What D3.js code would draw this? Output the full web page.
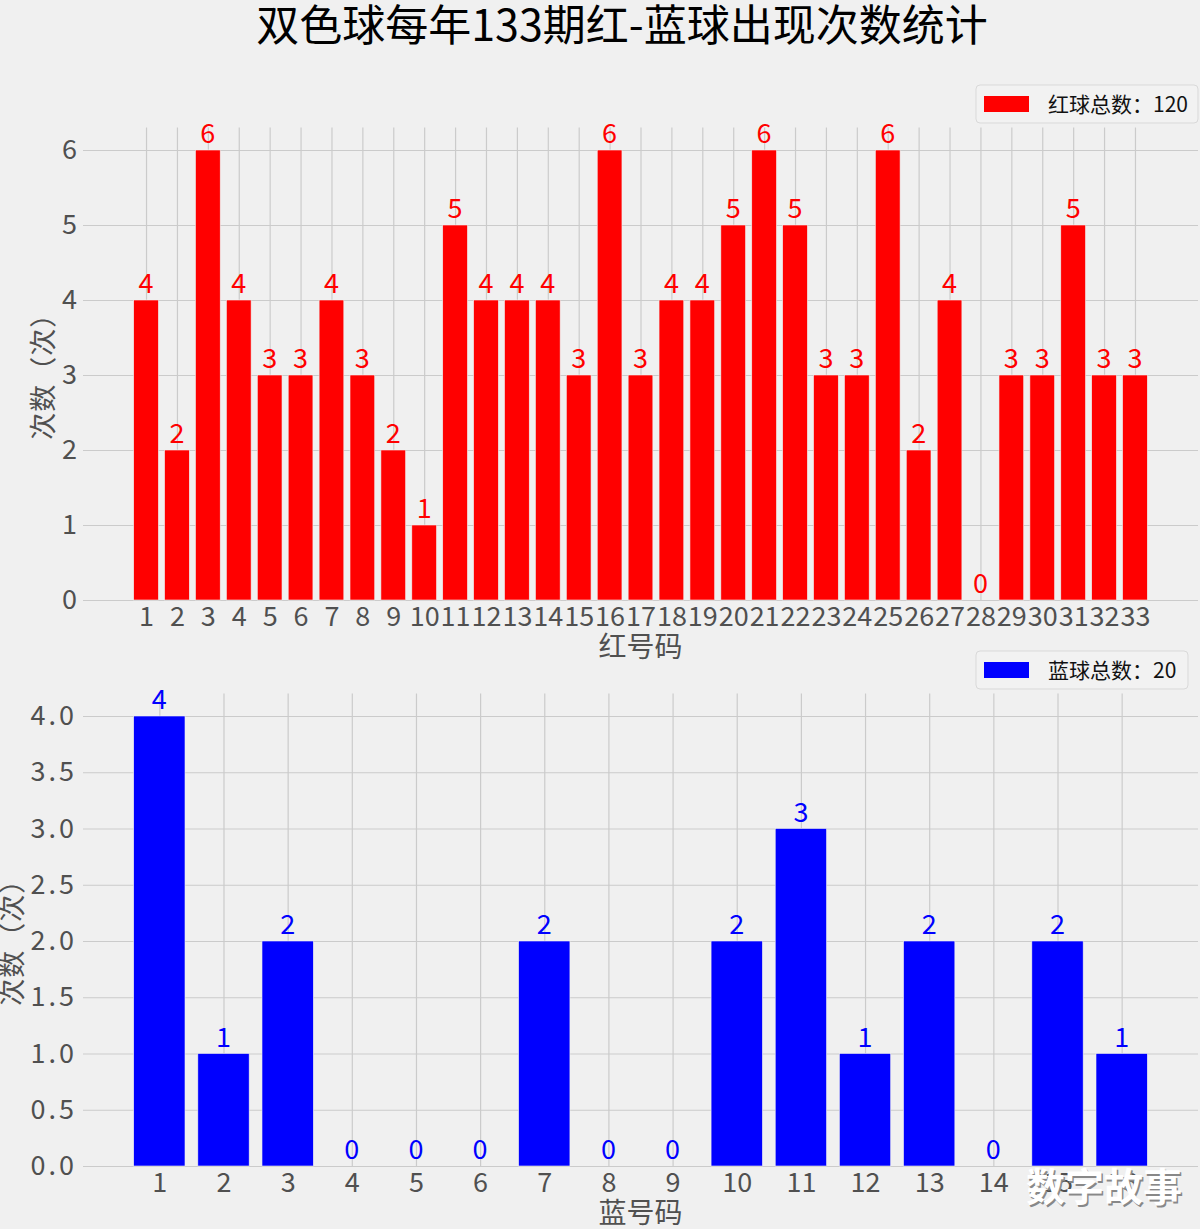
<!DOCTYPE html>
<html>
<head>
<meta charset="utf-8">
<script src="https://cdn.jsdelivr.net/npm/d3@7"></script>
<style>
  html, body { margin: 0; padding: 0; background: #f0f0f0; }
  svg { display: block; font-family: "Noto Sans CJK SC", "Noto Sans", sans-serif; }
</style>
</head>
<body>
<svg id="chart" width="1200" height="1229"></svg>
<script>
// ---- data ----
const title = "双色球每年133期红-蓝球出现次数统计";
const redNumbers = d3.range(1, 34);
const redCounts = [4,2,6,4,3,3,4,3,2,1,5,4,4,4,3,6,3,4,4,5,6,5,3,3,6,2,4,0,3,3,5,3,3];
const blueNumbers = d3.range(1, 17);
const blueCounts = [4,1,2,0,0,0,2,0,0,2,3,1,2,0,2,1];
const redYTicks = [0,1,2,3,4,5,6];
const blueYTicks = [0,0.5,1,1.5,2,2.5,3,3.5,4];
const redLegend = "红球总数：" + d3.sum(redCounts);
const blueLegend = "蓝球总数：" + d3.sum(blueCounts);
const redXLabel = "红号码";
const blueXLabel = "蓝号码";
const yLabel = "次数（次）";
const watermark = "数字故事";

const svg = d3.select("#chart");
svg.append("rect").attr("width", 1200).attr("height", 1229).attr("fill", "#f0f0f0");

svg.append("text")
  .attr("x", 622).attr("y", 41)
  .attr("text-anchor", "middle")
  .attr("font-size", 43)
  .attr("fill", "#000")
  .text(title);

function panel(opts) {
  const {cats, vals, color, top, bottom, yMax, yTicks, yFmt, xLabel, legendText, legendBox, ySpacing} = opts;
  const left = 83, right = 1198;
  const n = cats.length;
  const lo = 0.6, hi = n + 0.4, m = (hi - lo) * 0.05;
  const x = d3.scaleLinear().domain([lo - m, hi + m]).range([left, right]);
  const y = d3.scaleLinear().domain([0, yMax]).range([bottom, top]);
  const g = svg.append("g");
  const h = bottom - top, w = right - left;

  // y axis with gridlines
  const ya = g.append("g").attr("transform", `translate(${left},0)`)
    .call(d3.axisLeft(y).tickValues(yTicks).tickFormat(yFmt).tickSize(-w).tickPadding(6));
  ya.select(".domain").remove();
  ya.selectAll(".tick line").attr("stroke", "#cbcbcb").attr("stroke-width", 1.2);
  ya.selectAll(".tick text").attr("font-size", 27).attr("fill", "#505050")
    .attr("font-family", '"Noto Sans CJK SC", sans-serif')
    .attr("letter-spacing", ySpacing || 0);

  // x axis with gridlines
  const xa = g.append("g").attr("transform", `translate(0,${bottom})`)
    .call(d3.axisBottom(x).tickValues(cats).tickFormat(d3.format("d")).tickSize(-h).tickPadding(7));
  xa.select(".domain").remove();
  xa.selectAll(".tick line").attr("stroke", "#cbcbcb").attr("stroke-width", 1.2);
  xa.selectAll(".tick text").attr("font-size", 27).attr("fill", "#505050")
    .attr("font-family", '"Noto Sans CJK SC", sans-serif');

  // bars
  const bw = (x(1.8) - x(1));
  g.selectAll("rect.bar").data(cats).join("rect")
    .attr("class", "bar")
    .attr("x", d => x(d) - bw / 2)
    .attr("width", bw)
    .attr("y", (d, i) => y(vals[i]))
    .attr("height", (d, i) => y(0) - y(vals[i]))
    .attr("fill", color)
    .attr("stroke", "#f0f0f0").attr("stroke-width", 0.6);

  // value labels
  g.selectAll("text.val").data(cats).join("text")
    .attr("class", "val")
    .attr("x", d => x(d))
    .attr("y", (d, i) => y(vals[i]) - 7)
    .attr("text-anchor", "middle")
    .attr("font-size", 27)
    .attr("fill", color)
    .text((d, i) => vals[i]);

  // y label
  g.append("text")
    .attr("transform", `translate(${opts.yLabelX},${(top + bottom) / 2 + 6}) rotate(-90)`)
    .attr("text-anchor", "middle")
    .attr("font-size", 27)
    .attr("letter-spacing", 1)
    .attr("fill", "#505050")
    .text(yLabel);

  // x label
  g.append("text")
    .attr("x", (left + right) / 2).attr("y", opts.xLabelY)
    .attr("text-anchor", "middle")
    .attr("font-size", 28)
    .attr("fill", "#505050")
    .text(xLabel);

  // legend
  const lg = svg.append("g");
  lg.append("rect")
    .attr("x", legendBox.x).attr("y", legendBox.y)
    .attr("width", legendBox.w).attr("height", legendBox.h)
    .attr("rx", 4)
    .attr("fill", "#f2f2f2").attr("stroke", "#d9d9d9").attr("stroke-width", 1);
  lg.append("rect")
    .attr("x", legendBox.x + 8).attr("y", legendBox.y + legendBox.h / 2 - 8)
    .attr("width", 45).attr("height", 16)
    .attr("fill", color);
  lg.append("text")
    .attr("x", legendBox.x + 72).attr("y", legendBox.y + legendBox.h / 2 + 8)
    .attr("font-size", 21)
    .attr("fill", "#111")
    .text(legendText);
}

panel({
  cats: redNumbers, vals: redCounts, color: "#ff0000",
  top: 127.5, bottom: 600, yMax: 6.3, yTicks: redYTicks, yFmt: d3.format("d"),
  xLabel: redXLabel, xLabelY: 657, legendText: redLegend, yLabelX: 53,
  legendBox: {x: 976, y: 85, w: 222, h: 38}
});

panel({
  cats: blueNumbers, vals: blueCounts, color: "#0000ff",
  top: 693.5, bottom: 1166, yMax: 4.2, yTicks: blueYTicks, yFmt: d3.format(".1f"),
  xLabel: blueXLabel, xLabelY: 1223, legendText: blueLegend, ySpacing: 3, yLabelX: 22,
  legendBox: {x: 976, y: 651, w: 212, h: 38}
});

// watermark
svg.append("text")
  .attr("x", 1104).attr("y", 1201)
  .attr("text-anchor", "middle")
  .attr("font-size", 39)
  .attr("font-weight", "bold")
  .attr("fill", "#888")
  .attr("transform", "translate(1.5,1.5)")
  .text(watermark);
svg.append("text")
  .attr("x", 1104).attr("y", 1201)
  .attr("text-anchor", "middle")
  .attr("font-size", 39)
  .attr("font-weight", "bold")
  .attr("fill", "#ffffff")
  .text(watermark);
</script>
</body>
</html>
